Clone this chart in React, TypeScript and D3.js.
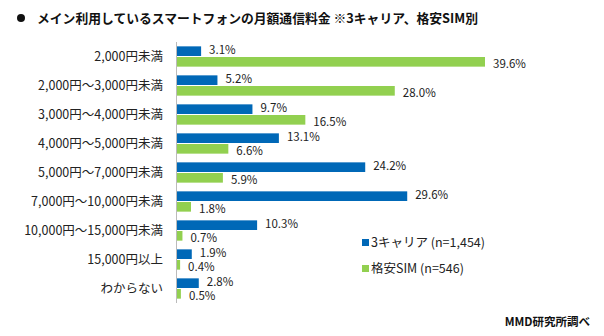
import React from "react";
import * as d3 from "d3";

const categories = [
  "2,000円未満",
  "2,000円～3,000円未満",
  "3,000円～4,000円未満",
  "4,000円～5,000円未満",
  "5,000円～7,000円未満",
  "7,000円～10,000円未満",
  "10,000円～15,000円未満",
  "15,000円以上",
  "わからない",
];
const carrier3 = [3.1, 5.2, 9.7, 13.1, 24.2, 29.6, 10.3, 1.9, 2.8];
const cheapSim = [39.6, 28.0, 16.5, 6.6, 5.9, 1.8, 0.7, 0.4, 0.5];
const seriesNames = ["3キャリア (n=1,454)", "格安SIM (n=546)"];
const colors = ["#0068B7", "#92D050"];

const W = 604, H = 336;
const x0 = 177;
const top = 42, bottom = 303;
const font = "'Noto Sans CJK JP', 'Noto Sans', sans-serif";

export default function App() {
  const x = d3.scaleLinear().domain([0, 39.6]).range([x0, 485]);
  const y = d3.scaleBand().domain(categories).range([top, bottom]).paddingInner(0.3).paddingOuter(0.15);
  const bh = y.bandwidth() / 2 - 0.5;
  return (
    <svg width={W} height={H} style={{ position: "absolute", left: 0, top: 0, background: "#fff" }} fontFamily={font}>
      <rect width={W} height={H} fill="#fff" />
      <circle cx={21} cy={18} r={4} fill="#111" />
      <text x={37} y={22.5} fontSize={12.8} fontWeight="bold" fill="#111">
        メイン利用しているスマートフォンの月額通信料金 ※3キャリア、格安SIM別
      </text>
      {categories.map((c, i) => {
        const yy = y(c)!;
        const vals = [carrier3[i], cheapSim[i]];
        return (
          <g key={c}>
            <text x={163} y={yy + y.bandwidth() / 2 + 4.5} textAnchor="end" fontSize={12.5} fill="#222">{c}</text>
            {vals.map((v, j) => {
              const by = yy + j * (bh + 1);
              return (
                <g key={j}>
                  <rect x={x0} y={by} width={x(v) - x0} height={bh} fill={colors[j]} />
                  <text x={x(v) + 8} y={by + bh / 2 + 4.2 + (j === 0 ? -1 : 1.5)} fontSize={11.5} fill="#222">{v.toFixed(1)}%</text>
                </g>
              );
            })}
          </g>
        );
      })}
      <line x1={x0 - 0.5} x2={x0 - 0.5} y1={top} y2={bottom} stroke="#bbb" strokeWidth={1} />
      {seriesNames.map((s, j) => (
        <g key={s}>
          <rect x={362} y={239 + j * 26} width={7} height={7} fill={colors[j]} />
          <text x={371} y={247 + j * 26} fontSize={12.5} fill="#222">{s}</text>
        </g>
      ))}
      <text x={590} y={326} textAnchor="end" fontSize={11.5} fontWeight="bold" fill="#111">MMD研究所調べ</text>
    </svg>
  );
}
